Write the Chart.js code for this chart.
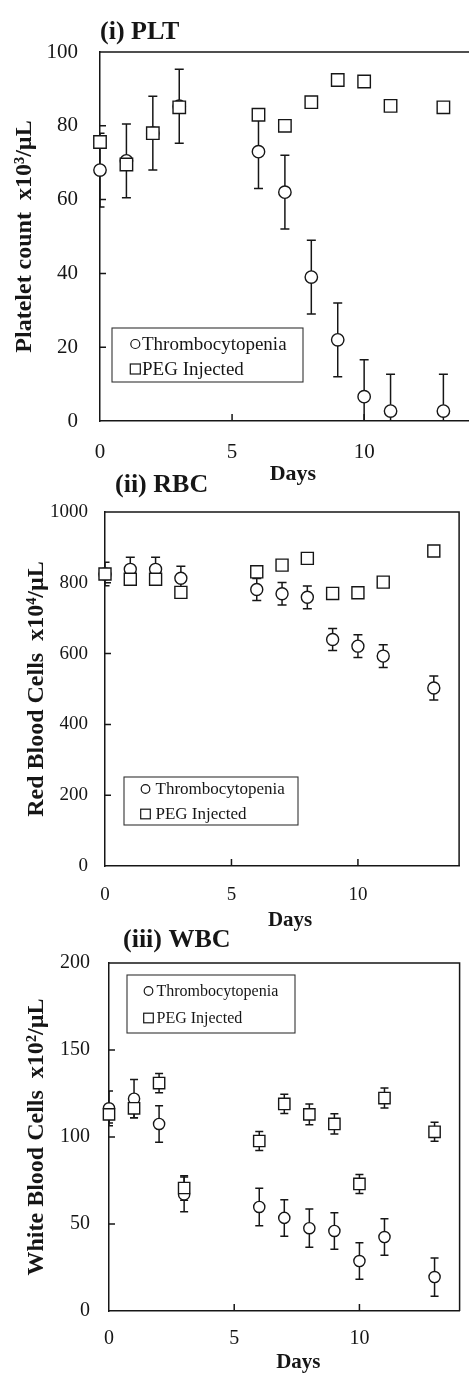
<!DOCTYPE html>
<html><head><meta charset="utf-8">
<script src="https://cdn.jsdelivr.net/npm/chart.js@4.4.0/dist/chart.umd.min.js"></script>
<style>
html,body{margin:0;padding:0;background:#fff;}
#wrap{position:relative;width:469px;height:1375px;overflow:hidden;background:#fff;}
canvas{position:absolute;left:0;}
</style></head><body><div id="wrap">
<canvas id="c1" width="480" height="490" style="top:0px;width:480px;height:490px"></canvas>
<canvas id="c2" width="469" height="485" style="top:455px;width:469px;height:485px"></canvas>
<canvas id="c3" width="469" height="460" style="top:915px;width:469px;height:460px"></canvas>
</div>
<script>
// ---------- data ----------
const days = [0, 1, 2, 3, 6, 7, 8, 9, 10, 11, 13];
const seriesNames = ['Thrombocytopenia', 'PEG Injected'];

const pltThrombo    = [68, 70.5, 78, 85.3, 73, 62, 39, 22, 6.6, 2.7, 2.7];
const pltThromboErr = [10, 10, 10, 10, 10, 10, 10, 10, 10, 10, 10];
const pltPeg        = [75.6, 69.5, 78, 85, 83, 80, 86.4, 92.4, 92, 85.4, 85];
const pltPegErr     = [1, 1, 1, 1, 1, 1.2, 1, 1.2, 1.2, 1, 1];

const rbcThrombo    = [825, 838, 838, 813, 781, 769, 759, 640, 621, 593, 503];
const rbcThromboErr = [33, 34, 34, 34, 31, 32, 32, 31, 32, 32, 34];
const rbcPeg        = [825, 810, 810, 773, 831, 850, 869, 770, 772, 802, 890];
const rbcPegErr     = [10, 4, 4, 4, 4, 4, 4, 4, 4, 4, 4];

const wbcThrombo    = [116.5, 122, 107.5, 67, 59.8, 53.5, 47.6, 46, 28.7, 42.5, 19.5];
const wbcThromboErr = [10, 11, 10.5, 10, 10.8, 10.5, 11, 10.5, 10.5, 10.5, 11];
const wbcPeg        = [113, 116.5, 131, 70.7, 97.7, 119, 113, 107.5, 73, 122.4, 103];
const wbcPegErr     = [5, 5.5, 5.5, 7, 5.5, 5.5, 6, 5.8, 5.5, 5.7, 5.5];

const panelTitles = ['(i) PLT', '(ii) RBC', '(iii) WBC'];
const yTitles = ['Platelet count  x10\u00B3/\u00B5L', 'Red Blood Cells  x10\u2074/\u00B5L', 'White Blood Cells  x10\u00B2/\u00B5L'];
const yMax = [100, 1000, 200];
const yStep = [20, 200, 50];
const xMax = 14, xStep = 5;
const xTitle = 'Days';

// ---------- styling ----------
const INK = '#161616';
const SERIF = '"Liberation Serif", "Times New Roman", serif';
const f = (size, bold) => (bold ? 'bold ' : '') + size + 'px ' + SERIF;

const panelPlugin = {
  id: 'panel',
  beforeDatasetsDraw(chart) {
    const o = chart.options.plugins.panel;
    const {ctx, chartArea: a, scales: {x, y}} = chart;
    ctx.save();
    ctx.beginPath();
    ctx.rect(a.left, a.top, a.right - a.left, a.bottom - a.top);
    ctx.clip();
    ctx.strokeStyle = INK;
    ctx.lineWidth = 1.5;
    chart.data.datasets.forEach(ds => {
      ds.data.forEach((p, i) => {
        const e = ds.err[i];
        if (!e) return;
        const px = x.getPixelForValue(p.x);
        const y1 = y.getPixelForValue(p.y + e);
        const y2 = y.getPixelForValue(p.y - e);
        ctx.beginPath();
        ctx.moveTo(px, y1); ctx.lineTo(px, y2);
        ctx.moveTo(px - o.cap, y1); ctx.lineTo(px + o.cap, y1);
        ctx.moveTo(px - o.cap, y2); ctx.lineTo(px + o.cap, y2);
        ctx.stroke();
      });
    });
    ctx.restore();
  },
  afterDraw(chart) {
    const o = chart.options.plugins.panel;
    const {ctx, chartArea: a, scales: {x, y}} = chart;
    ctx.save();
    ctx.strokeStyle = INK;
    ctx.lineWidth = 1.5;
    // top and right frame
    ctx.beginPath();
    ctx.moveTo(a.left, a.top); ctx.lineTo(a.right, a.top); ctx.lineTo(a.right, a.bottom);
    ctx.stroke();
    // inward ticks
    ctx.beginPath();
    y.ticks.forEach(t => {
      if (t.value <= y.min || t.value >= y.max) return;
      const py = y.getPixelForValue(t.value);
      ctx.moveTo(a.left, py); ctx.lineTo(a.left + 6, py);
    });
    x.ticks.forEach(t => {
      if (t.value <= x.min || t.value >= x.max) return;
      const px = x.getPixelForValue(t.value);
      ctx.moveTo(px, a.bottom); ctx.lineTo(px, a.bottom - 7);
    });
    ctx.stroke();
    // legend
    const L = o.legend;
    ctx.fillStyle = '#fff';
    ctx.fillRect(L.x, L.y, L.w, L.h);
    ctx.lineWidth = 1.1;
    ctx.strokeStyle = '#333';
    ctx.strokeRect(L.x, L.y, L.w, L.h);
    ctx.strokeStyle = INK;
    ctx.lineWidth = 1.2;
    ctx.beginPath();
    ctx.arc(L.mx, L.r1, L.mr, 0, Math.PI * 2);
    ctx.stroke();
    ctx.strokeRect(L.mx - L.mr - 0.5, L.r2 - L.mr - 0.5, 2 * L.mr + 1, 2 * L.mr + 1);
    ctx.fillStyle = INK;
    ctx.font = f(L.size, false);
    ctx.textBaseline = 'middle';
    ctx.textAlign = 'left';
    ctx.fillText(chart.data.datasets[0].label, L.tx, L.r1 + 1);
    ctx.fillText(chart.data.datasets[1].label, L.tx, L.r2 + 1);
    // panel title
    ctx.font = f(o.titleSize, true);
    ctx.fillText(o.title, o.titleX, o.titleY);
    // x-axis title
    ctx.textAlign = 'center';
    ctx.font = f(o.daysSize, true);
    ctx.fillText(xTitle, (a.left + a.right) / 2 + o.daysDx, o.daysY);
    ctx.restore();
  }
};

function makePanel(id, c) {
  const mk = (vals) => days.map((d, i) => ({x: d, y: vals[i]}));
  return new Chart(document.getElementById(id), {
    type: 'scatter',
    data: {
      datasets: [
        {label: seriesNames[0], data: mk(c.thr), err: c.thrErr, pointStyle: 'circle',
         pointRadius: c.cr, pointHoverRadius: c.cr, pointBackgroundColor: '#fff',
         pointBorderColor: INK, pointBorderWidth: 1.4, order: 2, clip: false},
        {label: seriesNames[1], data: mk(c.peg), err: c.pegErr, pointStyle: 'rect',
         pointRadius: c.sr, pointHoverRadius: c.sr, pointBackgroundColor: '#fff',
         pointBorderColor: INK, pointBorderWidth: 1.4, order: 1, clip: false}
      ]
    },
    options: {
      responsive: false, animation: false, devicePixelRatio: 1, events: [],
      layout: {padding: c.pad},
      plugins: {legend: {display: false}, tooltip: {enabled: false}, panel: c.panel},
      scales: {
        x: {
          type: 'linear', min: 0, max: xMax,
          afterFit: s => { s.height = 60; },
          grid: {display: false, drawTicks: false},
          border: {display: true, color: INK, width: 1.5},
          ticks: {stepSize: xStep, includeBounds: false, padding: c.xtPad, color: INK,
                  callback: v => String(v),
                  font: {family: SERIF, size: c.xtSize}}
        },
        y: {
          type: 'linear', min: 0, max: c.ymax,
          afterFit: s => { s.width = c.yW; },
          grid: {display: false, drawTicks: false},
          border: {display: true, color: INK, width: 1.5},
          ticks: {stepSize: c.ystep, padding: c.ytPad, color: INK,
                  callback: v => String(v),
                  font: {family: SERIF, size: c.ytSize}},
          title: {display: true, text: c.ytitle, color: INK,
                  font: {family: SERIF, size: 24, weight: 'bold', lineHeight: 1},
                  padding: {top: c.yTitlePad, bottom: 0}}
        }
      }
    },
    plugins: [panelPlugin]
  });
}

makePanel('c1', {
  thr: pltThrombo, thrErr: pltThromboErr, peg: pltPeg, pegErr: pltPegErr,
  ymax: yMax[0], ystep: yStep[0], ytitle: yTitles[0],
  pad: {top: 52, right: 8, bottom: 9, left: 0}, yW: 100, yTitlePad: 13,
  xtPad: 19, xtSize: 21, ytPad: 22, ytSize: 21, cr: 6.2, sr: 8.8,
  panel: {cap: 4.5, title: panelTitles[0], titleX: 100, titleY: 32, titleSize: 26,
          daysSize: 22, daysDx: 8, daysY: 474,
          legend: {x: 112, y: 328, w: 191, h: 54, mx: 135.3, r1: 344, r2: 369, mr: 4.5, tx: 142, size: 19}}
});

makePanel('c2', {
  thr: rbcThrombo, thrErr: rbcThromboErr, peg: rbcPeg, pegErr: rbcPegErr,
  ymax: yMax[1], ystep: yStep[1], ytitle: yTitles[1],
  pad: {top: 57, right: 8, bottom: 14, left: 0}, yW: 105, yTitlePad: 25,
  xtPad: 18, xtSize: 19, ytPad: 17, ytSize: 19, cr: 6, sr: 8.5,
  panel: {cap: 4.5, title: panelTitles[1], titleX: 115, titleY: 30, titleSize: 26,
          daysSize: 21, daysDx: 8, daysY: 466,
          legend: {x: 124, y: 322, w: 174, h: 48, mx: 145.5, r1: 334, r2: 359, mr: 4.3, tx: 155.5, size: 17}}
});

makePanel('c3', {
  thr: wbcThrombo, thrErr: wbcThromboErr, peg: wbcPeg, pegErr: wbcPegErr,
  ymax: yMax[2], ystep: yStep[2], ytitle: yTitles[2],
  pad: {top: 48, right: 7, bottom: 4, left: 0}, yW: 109, yTitlePad: 25,
  xtPad: 16, xtSize: 20, ytPad: 19, ytSize: 20, cr: 5.6, sr: 8,
  panel: {cap: 4, title: panelTitles[2], titleX: 123, titleY: 25, titleSize: 26,
          daysSize: 21, daysDx: 14, daysY: 448,
          legend: {x: 127, y: 60, w: 168, h: 58, mx: 148.5, r1: 76, r2: 103, mr: 4.3, tx: 156.5, size: 16}}
});
</script>
</body></html>
